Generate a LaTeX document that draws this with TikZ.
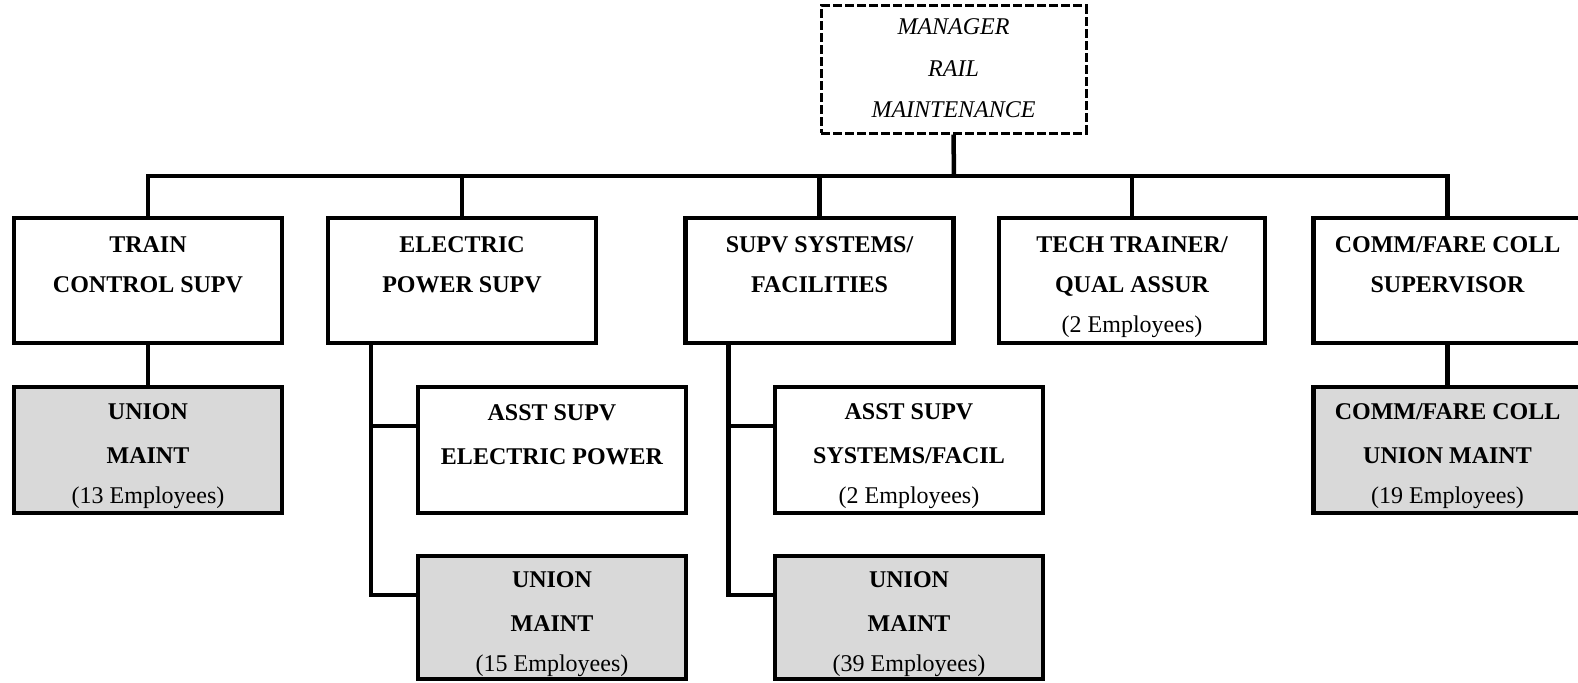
\documentclass[tikz,border=0pt]{standalone}
\usepackage{fontspec}
\setmainfont{Liberation Serif}
\usetikzlibrary{calc}
\def\ostrut{\rule[-2.5pt]{0pt}{17pt}}
\def\mstrut{\rule[-5pt]{0pt}{16.5pt}}

\begin{document}
\begin{tikzpicture}[x=0.5pt, y=0.5pt,
		box/.style={draw, line width=2.25pt, minimum width=134pt, minimum height=62.5pt,
			inner sep=0pt, align=center, font=\fontsize{12}{20}\selectfont\bfseries},
		subbox/.style={box, minimum height=63pt},
		unionbox/.style={subbox, fill=black!15},
		mgrbox/.style={box, line width=1.5pt, dash pattern=on 4.5pt off 1.5pt,
			minimum width=132.5pt, minimum height=63.5pt, font=\fontsize{12}{20.75}\selectfont\itshape},
		link/.style={line width=2.25pt}]
		%%%%% START %%%%%
		\useasboundingbox (0, 0) rectangle (1578, 682);
		
		\node[mgrbox] (mgr) at (953.5, 612.5) {\mstrut MANAGER\\\mstrut RAIL\\\mstrut MAINTENANCE};
		\coordinate (bar) at (954, 506);
		
		\node[box] (train) at (148, 401.5) {\ostrut TRAIN\\\ostrut CONTROL SUPV\\\ostrut};
		\node[box] (elec) at (462, 401.5) {\ostrut ELECTRIC\\\ostrut POWER SUPV\\\ostrut};
		\node[box] (supv) at (819.5, 401.5) {\ostrut SUPV SYSTEMS/\\\ostrut FACILITIES\\\ostrut};
		\node[box, minimum width=133pt] (tech) at (1132, 401.5) {\ostrut TECH TRAINER/\\\ostrut QUAL ASSUR\\\ostrut{\mdseries (2 Employees)}};
		\node[box] (comm) at (1447.5, 401.5) {\ostrut COMM/FARE COLL\\\ostrut SUPERVISOR\\\ostrut};
		
		\node[unionbox] (tunion) at (148, 232) {\ostrut UNION\\[2pt]\ostrut MAINT\\\ostrut{\mdseries (13 Employees)}};
		\node[unionbox] (cunion) at (1447.5, 232) {\ostrut COMM/FARE COLL\\[2pt]\ostrut UNION MAINT\\\ostrut{\mdseries (19 Employees)}};
		
		\node[subbox] (easst) at (552, 232) {\ostrut ASST SUPV\\[2pt]\ostrut ELECTRIC POWER\\\ostrut};
		\node[unionbox, minimum height=61.5pt] (eunion) at (552, 64.5) {\ostrut UNION\\[2pt]\ostrut MAINT\\\ostrut{\mdseries (15 Employees)}};
		\node[subbox] (sasst) at (909, 232) {\ostrut ASST SUPV\\[2pt]\ostrut SYSTEMS/FACIL\\\ostrut{\mdseries (2 Employees)}};
		\node[unionbox, minimum height=61.5pt] (sunion) at (909, 64.5) {\ostrut UNION\\[2pt]\ostrut MAINT\\\ostrut{\mdseries (39 Employees)}};
		
		% manager down to the bar, bar down to the supervisors
		\draw[link] (mgr.south) -- (bar);
		\draw[link] (train.north) |- (bar) -| (comm.north);
		\foreach \n in {elec, supv, tech}
			\draw[link] (\n.north) -- (\n.north |- bar);
		
		\draw[link] (train.south) -- (tunion.north);
		\draw[link] (comm.south) -- (cunion.north);
		
		% side branches
		\draw[link] ($(elec.south west)+(45, 0)$) |- ($(eunion.north west)+(0, -41)$);
		\draw[link] ($(elec.south west)+(45, 0)$) |- ($(easst.north west)+(0, -41)$);
		\draw[link] ($(supv.south west)+(45, 0)$) |- ($(sunion.north west)+(0, -41)$);
		\draw[link] ($(supv.south west)+(45, 0)$) |- ($(sasst.north west)+(0, -41)$);
		%%%%% END %%%%%
	\end{tikzpicture}
\end{document}
